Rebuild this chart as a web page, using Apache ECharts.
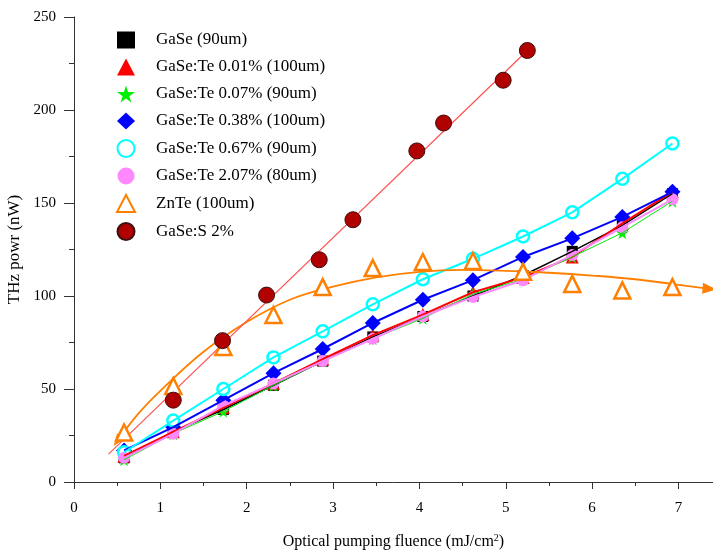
<!DOCTYPE html>
<html>
<head>
<meta charset="utf-8">
<script src="https://cdn.jsdelivr.net/npm/echarts@6/dist/echarts.min.js"></script>
<style>
  html, body { margin: 0; padding: 0; background: #fff; }
  #chart { width: 713px; height: 550px; }
</style>
</head>
<body>
<div id="chart"></div>
<script>
// x positions shared by the GaSe / GaSe:Te / ZnTe measurements
const fluence = [0.58, 1.15, 1.73, 2.31, 2.88, 3.46, 4.04, 4.62, 5.20, 5.77, 6.35, 6.93];

const gase90 = [13, 27, 39, 52, 65, 78, 89, 100, 111, 124, 138, 155];
const te001 = [14, 27, 40, 53, 66, 79, 90, 102, 110, 121, 139, 156];
const te007 = [12, 26, 38, 52, 65, 77, 88, 101, 109, 121, 134, 151];
const te038 = [17, 29.5, 44, 58.5, 71.5, 85.5, 98, 108.5, 121, 131, 142.5, 156];
const te067 = [16, 33, 50, 67, 81, 95.5, 109, 120, 132, 145, 163, 182];
const te207 = [13, 26, 41, 53, 65, 77, 89, 99.5, 108.5, 122, 137, 152];
const znte = [26.6, 51.6, 72.6, 89.8, 104.8, 115, 118.3, 118.8, 113, 106.5, 103, 104.8];

// GaSe:S 2% has its own x values
const gasSX = [1.15, 1.72, 2.23, 2.84, 3.23, 3.97, 4.28, 4.97, 5.25];
const gasSY = [44, 76, 100.5, 119.5, 141, 178, 193, 216, 232];

// fit lines
const sFitX = [0.4, 5.25];
const sFitY = [15, 232];
const znFitX = [0.5, 0.75, 1.0, 1.5, 2.0, 2.5, 3.0, 3.5, 4.0, 4.5, 5.0, 5.5, 6.0, 6.5, 7.0, 7.36];
const znFitY = [22, 37, 49, 70, 86, 98, 105, 110, 113, 114, 113.5, 112.5, 111, 109, 106, 103.8];

const xTicks = [0, 1, 2, 3, 4, 5, 6, 7];
const yTicks = [0, 50, 100, 150, 200, 250];

const starPath = 'path://M50,0 L61,35 L98,35 L68,57 L79,91 L50,70 L21,91 L32,57 L2,35 L39,35 Z';
const serif = '"Liberation Serif", "DejaVu Serif", serif';

let pair = function (xs, ys) {
  let res = [];
  for (let i = 0; i < xs.length; i++) {
    res.push([xs[i], ys[i]]);
  }
  return res;
};

const measured = [
  { name: 'GaSe (90um)', ys: gase90, color: '#000000', symbol: 'rect', size: 11, lineW: 1.5 },
  { name: 'GaSe:Te 0.01% (100um)', ys: te001, color: '#FF0000', symbol: 'triangle', size: 13, lineW: 2 },
  { name: 'GaSe:Te 0.07% (90um)', ys: te007, color: '#00EE00', symbol: starPath, size: 13, lineW: 1 },
  { name: 'GaSe:Te 0.38% (100um)', ys: te038, color: '#0000FF', symbol: 'diamond', size: 16, lineW: 2 },
  { name: 'GaSe:Te 0.67% (90um)', ys: te067, color: '#00FFFF', symbol: 'circle', size: 12, lineW: 2, hollow: true },
  { name: 'GaSe:Te 2.07% (80um)', ys: te207, color: '#FF88FF', symbol: 'circle', size: 12, lineW: 2 }
];

let series = [];
measured.forEach(function (m) {
  series.push({
    name: m.name + ' line',
    type: 'line',
    data: pair(fluence, m.ys),
    symbol: 'none',
    lineStyle: { color: m.color, width: m.lineW },
    z: 3
  });
  series.push({
    name: m.name,
    type: 'scatter',
    data: pair(fluence, m.ys),
    symbol: m.symbol,
    symbolSize: m.size,
    itemStyle: m.hollow
      ? { color: '#ffffff', borderColor: m.color, borderWidth: 2.5, opacity: 1 }
      : { color: m.color, opacity: 1 },
    z: 2
  });
});

// ZnTe fit curve with arrow heads at both ends
let znFit = pair(znFitX, znFitY);
znFit[0] = { value: znFit[0], symbol: 'triangle', symbolSize: [9, 12], symbolRotate: 145 };
znFit[znFit.length - 1] = { value: znFit[znFit.length - 1], symbol: 'triangle', symbolSize: [11, 14], symbolRotate: -95 };

series.push({
  name: 'ZnTe fit',
  type: 'line',
  data: znFit,
  smooth: 0.4,
  symbol: 'none',
  showSymbol: true,
  lineStyle: { color: '#FF8000', width: 1.8 },
  itemStyle: { color: '#FF8000' },
  z: 3
});
series.push({
  name: 'ZnTe (100um)',
  type: 'scatter',
  data: pair(fluence, znte),
  symbol: 'triangle',
  symbolSize: 16,
  itemStyle: { color: '#ffffff', borderColor: '#FF8000', borderWidth: 2.5, opacity: 1 },
  z: 4
});
series.push({
  name: 'GaSe:S fit',
  type: 'line',
  data: pair(sFitX, sFitY),
  symbol: 'none',
  lineStyle: { color: '#FF5050', width: 1.2 },
  z: 3
});
series.push({
  name: 'GaSe:S 2%',
  type: 'scatter',
  data: pair(gasSX, gasSY),
  symbol: 'circle',
  symbolSize: 16,
  itemStyle: { color: '#B00000', borderColor: '#3a1010', borderWidth: 1, opacity: 1 },
  z: 5
});

const legendNames = measured.map(function (m) { return m.name; }).concat(['ZnTe (100um)', 'GaSe:S 2%']);

const option = {
  animation: false,
  backgroundColor: '#ffffff',
  grid: { left: 74, right: 0, top: 17, bottom: 68, outerBoundsMode: 'none', containLabel: false },
  legend: {
    data: legendNames,
    orient: 'vertical',
    left: 111,
    top: 26,
    itemWidth: 18,
    itemHeight: 17,
    itemGap: 9,
    symbolKeepAspect: true,
    textStyle: { fontFamily: serif, fontSize: 17, color: '#000', lineHeight: 18, padding: [0, 0, 0, 16] }
  },
  xAxis: {
    type: 'value',
    min: 0,
    max: 7.4,
    interval: 1,
    name: 'Optical pumping fluence (mJ/cm{sup|2})',
    nameLocation: 'middle',
    nameGap: 51,
    nameTextStyle: {
      fontFamily: serif, fontSize: 16, color: '#000',
      rich: { sup: { fontFamily: serif, fontSize: 10, verticalAlign: 'top', padding: [0, 0, 8, 0] } }
    },
    axisLine: { show: true, onZero: false, lineStyle: { color: '#333', width: 1 } },
    axisTick: { show: true, length: 7, lineStyle: { color: '#333' } },
    minorTick: { show: true, splitNumber: 2, length: 4, lineStyle: { color: '#333' } },
    axisLabel: {
      margin: 19, fontFamily: serif, fontSize: 15, color: '#000',
      formatter: function (v) { return xTicks.indexOf(v) >= 0 ? String(v) : ''; }
    },
    splitLine: { show: false }
  },
  yAxis: {
    type: 'value',
    min: 0,
    max: 250,
    interval: 50,
    name: 'THz powr (nW)',
    nameLocation: 'middle',
    nameGap: 39,
    nameTextStyle: { fontFamily: serif, fontSize: 17, color: '#000' },
    axisLine: { show: true, lineStyle: { color: '#333', width: 1 } },
    axisTick: { show: true, length: 10, lineStyle: { color: '#333' } },
    minorTick: { show: true, splitNumber: 2, length: 5, lineStyle: { color: '#333' } },
    axisLabel: {
      margin: 18, fontFamily: serif, fontSize: 15, color: '#000',
      formatter: function (v) { return yTicks.indexOf(v) >= 0 ? String(v) : ''; }
    },
    splitLine: { show: false }
  },
  series: series
};

const chart = echarts.init(document.getElementById('chart'));
chart.setOption(option);
</script>
</body>
</html>
